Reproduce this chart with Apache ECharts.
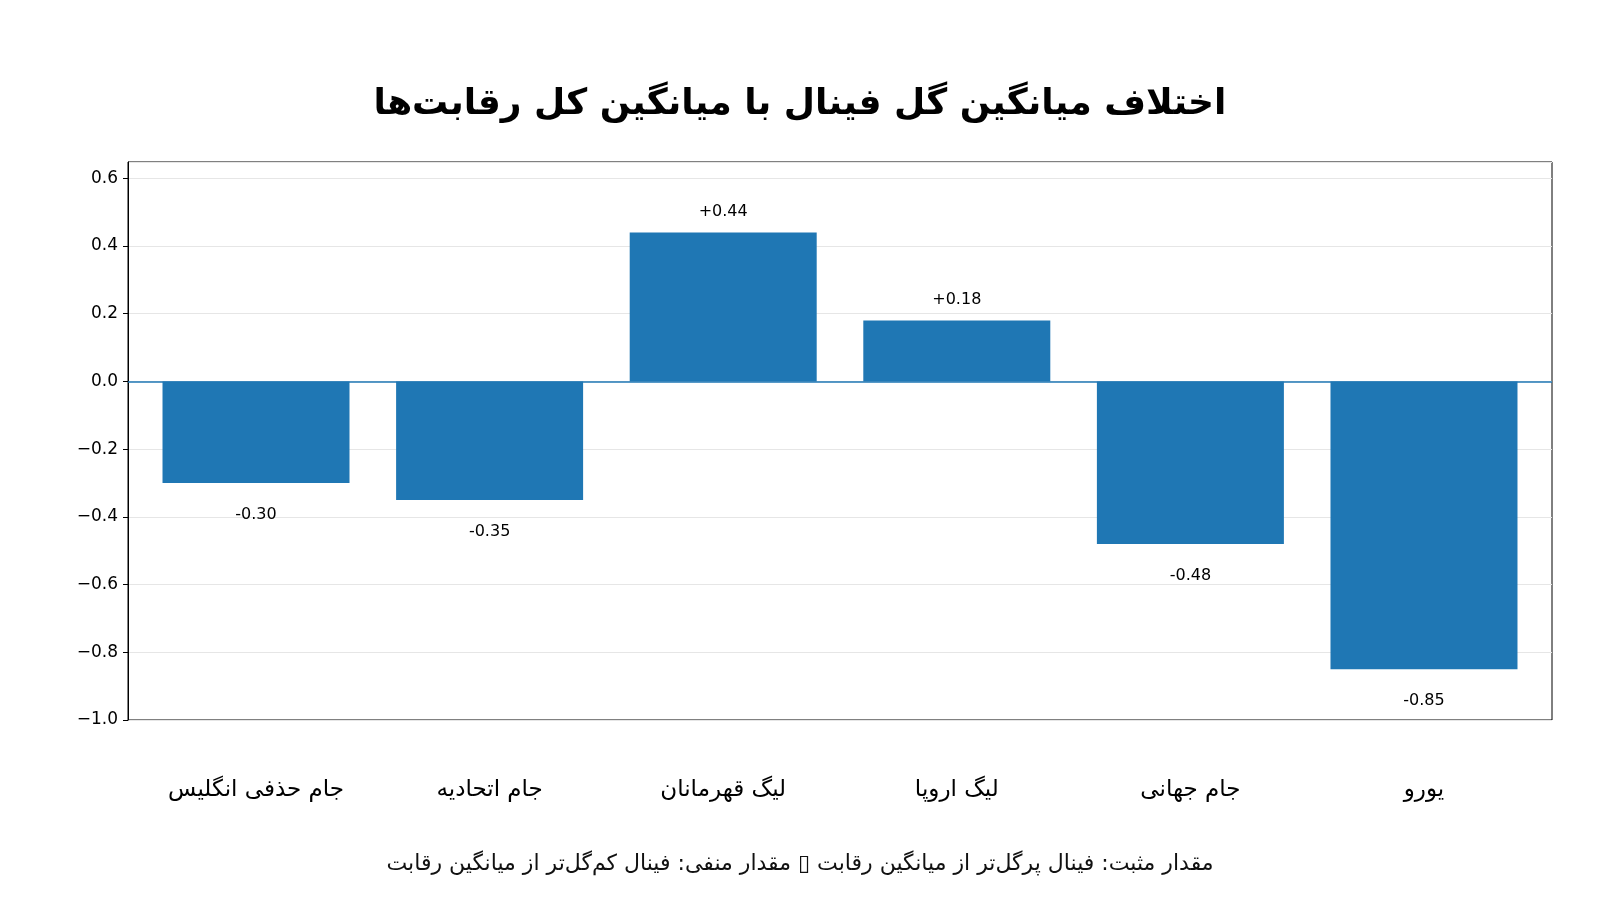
<!DOCTYPE html>
<html><head><meta charset="utf-8">
<script src="https://cdn.jsdelivr.net/npm/echarts@6/dist/echarts.min.js"></script>
<style>html,body{margin:0;padding:0;background:#fff}#c{width:1600px;height:900px}</style>
</head><body><div id="c"></div>
<script>
const categories = ['جام حذفی انگلیس','جام اتحادیه','لیگ قهرمانان','لیگ اروپا','جام جهانی','یورو'];
const diffValues = [-0.30, -0.35, 0.44, 0.18, -0.48, -0.85];
const titleText = 'اختلاف میانگین گل فینال با میانگین کل رقابت‌ها';
const captionText = 'مقدار مثبت: فینال پرگل‌تر از میانگین رقابت ▯ مقدار منفی: فینال کم‌گل‌تر از میانگین رقابت';

const chart = echarts.init(document.getElementById('c'));
const fmt = v => (v > 0 ? '+' : '') + v.toFixed(2);
const gridLeft = 128, gridRight = 48, xMin = -0.548, xMax = categories.length - 1 + 0.548;
const slotPx = (1600 - gridLeft - gridRight) / (xMax - xMin);
chart.setOption({
  backgroundColor: '#fff',
  title: [
    {text: titleText, left: 'center', top: 82,
     textStyle: {fontFamily: 'DejaVu Sans, Noto Sans, sans-serif', fontSize: 36, fontWeight: 'bold', color: '#000'}},
    {text: captionText, left: 'center', top: 848,
     textStyle: {fontFamily: 'DejaVu Sans, Noto Sans, sans-serif', fontSize: 22, fontWeight: 'normal', color: '#111'}}
  ],
  grid: {left: gridLeft, right: gridRight, top: 162, bottom: 180, show: true, borderColor: '#000', borderWidth: 1, containLabel: false},
  xAxis: {
    type: 'value', min: xMin, max: xMax,
    axisLine: {show: false}, axisTick: {show: false}, axisLabel: {show: false}, splitLine: {show: false}
  },
  yAxis: {
    type: 'value', min: -1.0, max: 0.648, interval: 0.2,
    axisLine: {show: true, onZero: false, lineStyle: {color: '#000'}},
    axisTick: {show: true, length: 5, lineStyle: {color: '#000'}},
    axisLabel: {fontSize: 17, color: '#000', margin: 10, fontFamily: 'DejaVu Sans, sans-serif', showMaxLabel: false,
      formatter: v => v.toFixed(1).replace('-', '−')},
    splitLine: {show: true, lineStyle: {color: '#e6e6e6', width: 1}}
  },
  series: [{
    type: 'bar', barWidth: Math.round(slotPx * 0.8),
    data: diffValues.map((v, i) => ({
      value: [i, v],
      label: {show: true, position: v >= 0 ? 'top' : 'bottom', distance: v >= 0 ? 13 : 24,
        formatter: () => fmt(v), fontSize: 16, color: '#000', fontFamily: 'DejaVu Sans, sans-serif'}
    })),
    itemStyle: {color: '#1f77b4'},
    markLine: {silent: true, symbol: 'none', label: {show: false},
      lineStyle: {color: '#1f77b4', width: 1.5, type: 'solid'},
      data: [{yAxis: 0}]}
  }, {
    type: 'scatter', silent: true, symbolSize: 0, clip: false,
    itemStyle: {opacity: 1},
    data: categories.map((c, i) => [i, -1.0]),
    label: {show: true, position: 'bottom', distance: 59,
      formatter: p => categories[p.dataIndex], fontSize: 23, color: '#000', fontFamily: 'DejaVu Sans, sans-serif'}
  }]
});
</script></body></html>
